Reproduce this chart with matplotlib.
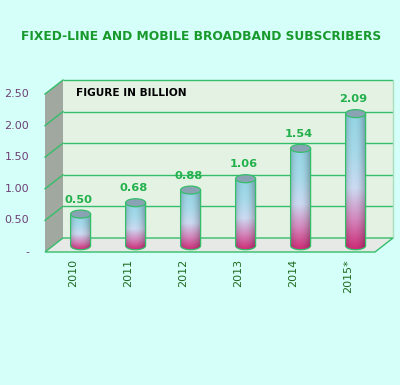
import numpy as np
import matplotlib
matplotlib.use('Agg')
import matplotlib.pyplot as plt
from matplotlib.patches import Polygon, Ellipse, Rectangle
from matplotlib.colors import LinearSegmentedColormap

# data
years = ['2010', '2011', '2012', '2013', '2014', '2015*']
subscribers = [0.50, 0.68, 0.88, 1.06, 1.54, 2.09]
value_labels = ['0.50', '0.68', '0.88', '1.06', '1.54', '2.09']
ytick_values = [0, 0.5, 1.0, 1.5, 2.0, 2.5]
ytick_labels = ['-', '0.50', '1.00', '1.50', '2.00', '2.50']

GREEN = '#35BE6A'
W, H = 400, 385
PX = 330 / 6      # pixels per category
PY = 158 / 2.5    # pixels per unit
ddx, ddy = -18 / PX, -14 / PY   # depth of the 3d box (front = lower left)

fig = plt.figure(figsize=(W / 100, H / 100), dpi=100, facecolor='#D5FFF9')
ax = fig.add_axes([0, 0, 1, 1])
ax.axis('off')

# back wall + gridlines
ax.add_patch(Rectangle((-0.5, 0), 6, 2.5, facecolor='#E4F2E4', edgecolor='none', zorder=0))
ax.hlines(ytick_values[1:], -0.5, 5.5, color=GREEN, lw=1, zorder=1)
ax.vlines(5.5, 0, 2.5, color='#A8E0BE', lw=1, zorder=1)

# left side wall
ax.add_patch(Polygon([(-0.5, 0), (-0.5, 2.5), (-0.5 + ddx, 2.5 + ddy), (-0.5 + ddx, ddy)],
                     closed=True, facecolor='#A0A89F', edgecolor='none', zorder=1))
for v in ytick_values[1:]:
    ax.plot([-0.5, -0.5 + ddx], [v, v + ddy], color=GREEN, lw=1, zorder=2)

# floor
ax.add_patch(Polygon([(-0.5, 0), (5.5, 0), (5.5 + ddx, ddy), (-0.5 + ddx, ddy)],
                     closed=True, facecolor='#E7E9E7', edgecolor=GREEN, lw=1, zorder=2))

# cylinder gradient
vert = LinearSegmentedColormap.from_list('cyl', [(0, '#CE2C78'), (0.22, '#D487BC'), (0.45, '#CCDAF2'),
                                                  (0.7, '#A8DAEA'), (1, '#94D3E4')])
v = np.linspace(0, 1, 120)[:, None]
u = np.linspace(0, 1, 40)
shade = 0.72 + 0.28 * np.clip(1 - ((u - 0.42) / 0.58) ** 2, 0, 1)
img = vert(v)[..., :3] * shade[None, :, None]

w = 20 / PX
eh = 8 / PY
t = np.linspace(0, np.pi, 40)
for i, val in enumerate(subscribers):
    cx = i + ddx * 0.55
    base = ddy * 0.55
    top = base + val
    xs = np.concatenate([[cx - w / 2, cx - w / 2, cx + w / 2], cx + w / 2 * np.cos(t)])
    ys = np.concatenate([[base, top, top], base - eh / 2 * np.sin(t)])
    body = Polygon(np.column_stack([xs, ys]), closed=True, facecolor='none',
                   edgecolor=GREEN, lw=0.9, zorder=4)
    ax.add_patch(body)
    im = ax.imshow(img, extent=(cx - w / 2, cx + w / 2, base - eh / 2, top), origin='lower',
                   aspect='auto', interpolation='bilinear', zorder=3)
    im.set_clip_path(body)
    ax.add_patch(Ellipse((cx, top), w, eh, facecolor='#8AA3B4', edgecolor=GREEN, lw=0.9, zorder=5))
    ax.text(cx - 2 / PX, top + 14.5 / PY, value_labels[i], ha='center', va='center',
            color='#22B04B', fontweight='bold', fontsize=8.2)

# axis labels
for v, lab in zip(ytick_values, ytick_labels):
    ax.text(-0.5 + ddx - 16 / PX, v + ddy, lab, ha='right', va='center', color='#6E3F74', fontsize=8)
for i, yr in enumerate(years):
    ax.text(i + ddx + 1 / PX, ddy - 7 / PY, yr, rotation=90, ha='center', va='top',
            color='#1F6B1F', fontsize=8)

ax.text(-0.5 + 13 / PX, 2.5 - 13 / PY, 'FIGURE IN BILLION', ha='left', va='center',
        color='black', fontweight='bold', fontsize=7.6)
fig.text(0.502, 1 - 37 / H, 'FIXED-LINE AND MOBILE BROADBAND SUBSCRIBERS', ha='center', va='center',
         color='#18992C', fontweight='bold', fontsize=8.8)

ax.set_xlim(-0.5 - 63 / PX, -0.5 + (W - 63) / PX)
ax.set_ylim(-147 / PY, (H - 147) / PY)

plt.savefig('out.png', dpi=100, facecolor=fig.get_facecolor())
